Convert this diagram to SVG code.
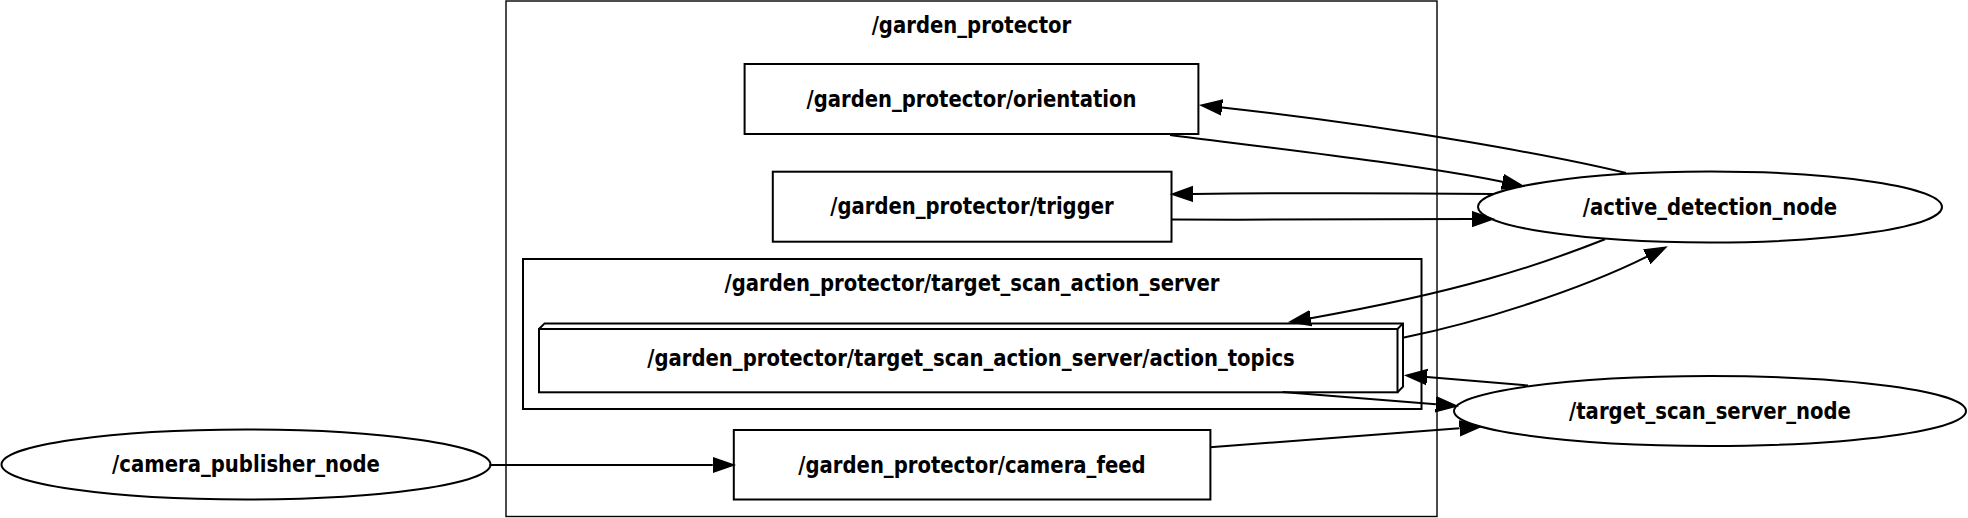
<svg xmlns="http://www.w3.org/2000/svg" width="1968" height="518" viewBox="0 0 1968 518">
<style>
  .bg { fill: #ffffff; }
  .cluster { fill: none; stroke: #000; }
  .node { fill: none; stroke: #000; stroke-width: 2; }
  .edge { fill: none; stroke: #000; stroke-width: 2; }
  text { font-family: "DejaVu Sans", "Liberation Sans", sans-serif; font-weight: bold; font-size: 22.5px; fill: #000; text-anchor: middle; }
</style>
<defs>
  <marker id="arrow" markerUnits="userSpaceOnUse" markerWidth="24" markerHeight="18" viewBox="0 -9 24 18" refX="0" refY="0" orient="auto">
    <path d="M0,-7.4 L21,0 L0,7.4 Z" fill="#000" stroke="#000" stroke-width="1.5"/>
  </marker>
</defs>
<rect class="bg" x="0" y="0" width="1968" height="518"/>

<g id="cluster_garden_protector">
  <rect class="cluster" x="506" y="1" width="931" height="515.5" stroke-width="1.4"/>
  <text x="971.5" y="32.5" textLength="199.6" lengthAdjust="spacingAndGlyphs">/garden_protector</text>
</g>
<g id="cluster_target_scan_action_server">
  <rect class="cluster" x="523" y="259" width="898.5" height="150" stroke-width="2"/>
  <text x="972" y="290.5" textLength="495" lengthAdjust="spacingAndGlyphs">/garden_protector/target_scan_action_server</text>
</g>

<g id="connectors">
  <path class="edge" marker-end="url(#arrow)" d="M1626,173 C1560,157 1400,127 1222,107.5"/>
  <path class="edge" marker-end="url(#arrow)" d="M1170,135 C1280,149 1420,165 1502.3,181.8"/>
  <path class="edge" marker-end="url(#arrow)" d="M1494,194 C1400,193 1280,193 1193,194"/>
  <path class="edge" marker-end="url(#arrow)" d="M1172,219.5 C1280,220 1400,219 1472,219"/>
  <path class="edge" marker-end="url(#arrow)" d="M1605,239.3 C1540,265 1460,292 1310.7,318.2"/>
  <path class="edge" marker-end="url(#arrow)" d="M1404,337.5 C1480,322 1580,290 1647,256.7"/>
  <path class="edge" marker-end="url(#arrow)" d="M1528,385.5 L1427,377.1"/>
  <path class="edge" marker-end="url(#arrow)" d="M1282.6,392 L1435.9,404.3"/>
  <path class="edge" marker-end="url(#arrow)" d="M1210,447.3 L1459.6,428.3"/>
  <path class="edge" marker-end="url(#arrow)" d="M489.5,465 L712.8,465"/>
</g>

<g id="node_orientation">
  <rect class="node" x="744.6" y="64" width="453.8" height="70"/>
  <text x="971.5" y="106.8" textLength="330" lengthAdjust="spacingAndGlyphs">/garden_protector/orientation</text>
</g>
<g id="node_trigger">
  <rect class="node" x="772.8" y="171.7" width="398.7" height="70"/>
  <text x="972" y="214.3" textLength="283.4" lengthAdjust="spacingAndGlyphs">/garden_protector/trigger</text>
</g>
<g id="node_action_topics">
  <rect class="node" x="539" y="329" width="858.5" height="63.3"/>
  <path class="node" d="M539,329 L544.6,323.4 L1403,323.4 L1403,386.7 L1397.5,392.3 M1397.5,329 L1403,323.4"/>
  <text x="971" y="366" textLength="647.5" lengthAdjust="spacingAndGlyphs">/garden_protector/target_scan_action_server/action_topics</text>
</g>
<g id="node_camera_feed">
  <rect class="node" x="733.8" y="430" width="476.6" height="69.5"/>
  <text x="972" y="472.5" textLength="347.3" lengthAdjust="spacingAndGlyphs">/garden_protector/camera_feed</text>
</g>
<g id="node_active_detection_node">
  <ellipse class="node" cx="1710" cy="207" rx="232" ry="35.5"/>
  <text x="1710" y="214.5" textLength="254.3" lengthAdjust="spacingAndGlyphs">/active_detection_node</text>
</g>
<g id="node_target_scan_server_node">
  <ellipse class="node" cx="1710" cy="411" rx="256" ry="35"/>
  <text x="1710" y="418.5" textLength="281.9" lengthAdjust="spacingAndGlyphs">/target_scan_server_node</text>
</g>
<g id="node_camera_publisher_node">
  <ellipse class="node" cx="246" cy="464.5" rx="244.5" ry="35"/>
  <text x="246" y="472" textLength="267.8" lengthAdjust="spacingAndGlyphs">/camera_publisher_node</text>
</g>
</svg>
